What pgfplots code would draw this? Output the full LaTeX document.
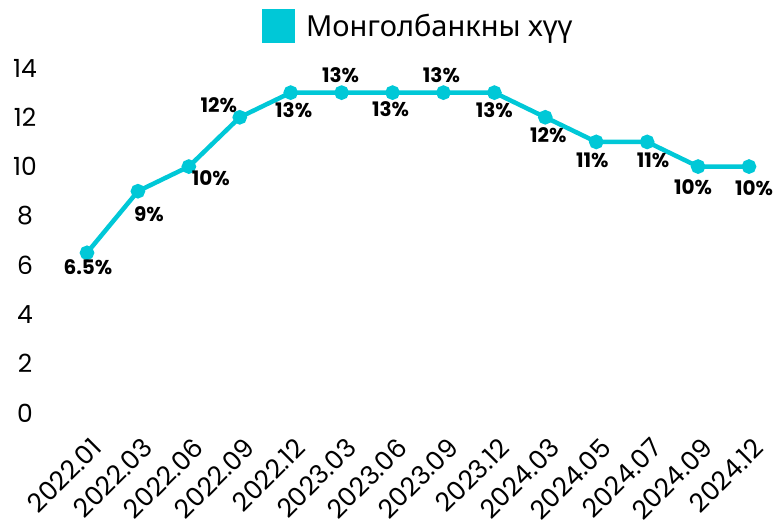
\documentclass[border=0pt]{standalone}
\usepackage{pgfplots}
\pgfplotsset{compat=1.18}
\usepackage{pgfplotstable}
\usepackage{fontspec}
\setmainfont{Poppins}
\newfontfamily\legfont{Noto Sans}
\definecolor{cy}{RGB}{0,200,215}
\pgfplotstableread{
x y dx dy
0 6.5 1 -14
1 9 11 -23
2 10 22 -12
3 12 -21 12
4 13 3 -18
5 13 -1 17
6 13 -2 -17
7 13 -2 17
8 13 0 -18
9 12 3 -18
10 11 -4 -18
11 11 6 -18
12 10 -5 -21
13 10 5 -22
}\datatable
\begin{document}
\begin{tikzpicture}
\useasboundingbox (-87pt,-116pt) rectangle (689pt,413pt);
\begin{axis}[
  at={(0,0)}, anchor=south west,
  scale only axis, width=662pt, height=345pt,
  xmin=0, xmax=13, ymin=0, ymax=14,
  clip=false,
  axis line style={draw=none},
  major tick length=0pt,
  xtick={0,...,13},
  xticklabels={2022.01,2022.03,2022.06,2022.09,2022.12,2023.03,2023.06,2023.09,2023.12,2024.03,2024.05,2024.07,2024.09,2024.12},
  ytick={0,2,...,14},
  /pgf/number format/assume math mode=true,
  tick label style={font=\fontsize{25}{30}\selectfont},
  yticklabel style={anchor=center, xshift=-62pt},
  xticklabel style={rotate=45, anchor=north east, xshift=-11pt, yshift=-15pt, font=\fontsize{26}{30}\selectfont},
  legend style={at={(axis description cs:0.5,1)}, anchor=south, yshift=25pt, draw=none, fill=none,
    font=\legfont\fontsize{29}{34}\selectfont, inner sep=0pt},
  legend cell align=left,
]
\addplot[cy, line width=4.5pt, mark=*, mark size=5pt,
  mark options={fill=cy, draw=none},
  point meta=y,
  visualization depends on={\thisrow{dx} \as \labdx},
  visualization depends on={\thisrow{dy} \as \labdy},
  nodes near coords={\pgfmathprintnumber[assume math mode=true]{\pgfplotspointmeta}\%},
  nodes near coords style={anchor=center, xshift=\labdx pt, yshift=\labdy pt, text=black,
    font=\bfseries\fontsize{20}{23}\selectfont},
  legend image code/.code={\fill[cy] (0pt,-14.5pt) rectangle (29pt,14.5pt);},
] table[x=x, y=y] {\datatable};
\addlegendentry{\hspace{9pt}Монголбанкны хүү}
\end{axis}
\end{tikzpicture}
\end{document}
